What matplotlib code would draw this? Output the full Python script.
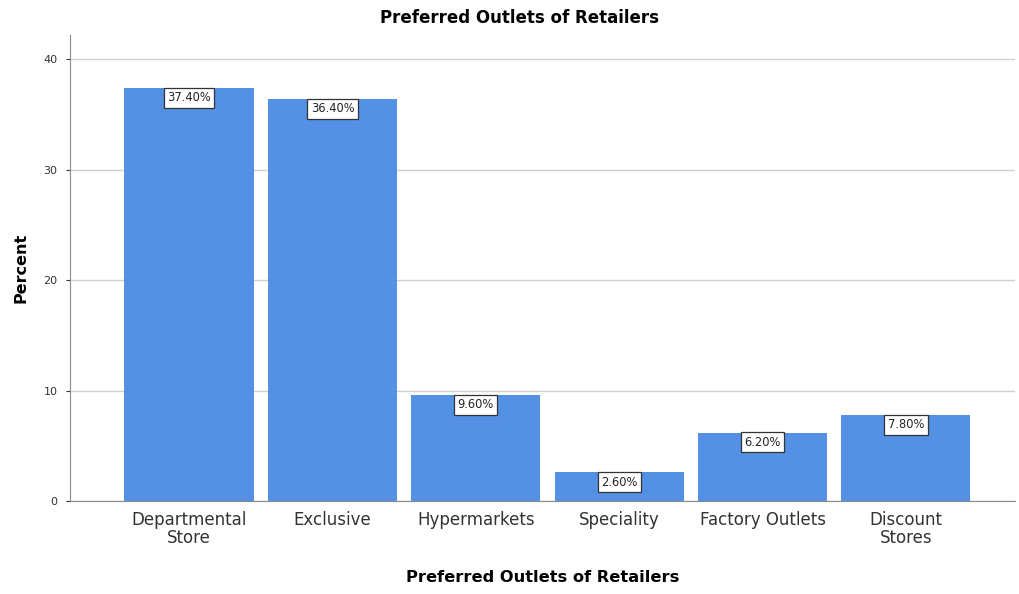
import matplotlib.pyplot as plt

outlets = ['Departmental\nStore', 'Exclusive', 'Hypermarkets', 'Speciality',
           'Factory Outlets', 'Discount\nStores']
percent = [37.4, 36.4, 9.6, 2.6, 6.2, 7.8]

fig = plt.figure(figsize=(10.19, 5.94), dpi=100)
ax = fig.add_axes([0.0687, 0.1566, 0.9273, 0.7844])

x = range(len(outlets))
ax.bar(x, percent, width=0.9, color='#5490e3', zorder=2)

# value labels in boxes hanging from each bar top
for xi, v in zip(x, percent):
    ax.text(xi, v - 0.3, f'{v:.2f}%', ha='center', va='top', fontsize=8.3,
            color='#222222', zorder=3,
            bbox=dict(boxstyle='square,pad=0.3', fc='white', ec='#333333', lw=0.9))

ax.set_xlim(-0.83, 5.76)
ax.set_ylim(0, 42.2)
ax.set_yticks([0, 10, 20, 30, 40])
ax.yaxis.grid(True, color='#d0d0d0', lw=1, zorder=0)
ax.set_xticks(list(x))
ax.set_xticklabels(outlets, fontsize=12, color='#333333', linespacing=1.05)
ax.tick_params(axis='x', length=0, pad=7)
ax.tick_params(axis='y', labelsize=8, colors='#333333', length=3, pad=6)

for side in ['top', 'right']:
    ax.spines[side].set_visible(False)
for side in ['left', 'bottom']:
    ax.spines[side].set_color('#8a8a8a')

fig.text(0.51, 0.97, 'Preferred Outlets of Retailers', fontsize=12,
         fontweight='bold', ha='center', va='center')
ax.set_xlabel('Preferred Outlets of Retailers', fontsize=11.7, fontweight='bold', labelpad=16)
ax.set_ylabel('Percent', fontsize=11.5, fontweight='bold', labelpad=11)

fig.savefig('out.png', dpi=100)
